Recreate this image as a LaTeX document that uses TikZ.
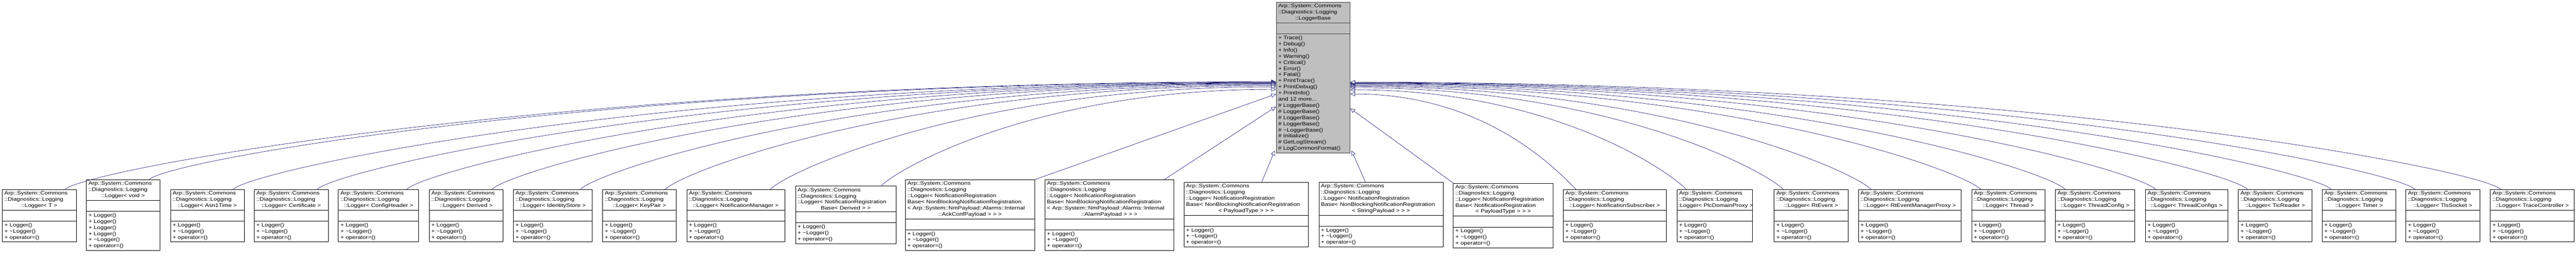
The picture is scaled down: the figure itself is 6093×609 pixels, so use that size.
\documentclass[tikz,border=0pt]{standalone}
\usepackage{fontspec}
\setmainfont{Liberation Sans}[FakeStretch=1.18]
\usetikzlibrary{shapes.multipart,arrows.meta,calc}
\definecolor{edgeblue}{HTML}{191970}
\definecolor{basegray}{HTML}{BFBFBF}
\newcommand\ctr[1]{\makebox[\linewidth]{#1}}
\newcommand\lmethods{+ Logger()\\+ \textasciitilde Logger()\\+ operator=()}
\tikzset{
  cls/.style={rectangle split,rectangle split parts=3,draw=black,fill=white,
    line width=0.9pt,inner xsep=5pt,inner ysep=4pt,align=left,anchor=north west,
    font=\fontsize{12}{14.5}\selectfont},
  inh/.style={draw=edgeblue,line width=0.8pt,-{Triangle[open,length=11pt,width=10pt,fill=white]}}
}
\begin{document}
\begin{tikzpicture}[x=1pt,y=-1pt]
\useasboundingbox (0,0) rectangle (6093,609);
% base class
\node[cls,fill=basegray,draw=black!75,text width=165pt] (base) at (3018,5)
  {Arp::System::Commons\\::Diagnostics::Logging\\\ctr{::LoggerBase}
   \nodepart{two}\rule{0pt}{17pt}
   \nodepart{three}+ Trace()\\+ Debug()\\+ Info()\\+ Warning()\\+ Critical()\\+ Error()\\+ Fatal()\\+ PrintTrace()\\+ PrintDebug()\\+ PrintInfo()\\and 12 more...\\\# LoggerBase()\\\# LoggerBase()\\\# LoggerBase()\\\# LoggerBase()\\\# \textasciitilde LoggerBase()\\\# Initialize()\\\# GetLogStream()\\\# LogCommonFormat()};
% plain loggers
\foreach \nm/\x/\w/\lbl in {lT/5/175/T, lAsn/403/174/Asn1Time, lCert/601/175/Certificate,
  lCfg/800/190/ConfigHeader, lDer/1015/174/Derived, lIds/1214/186/IdentityStore,
  lKey/1425/174/KeyPair, lNMgr/1624/232/NotificationManager,
  lSub/3697/244/NotificationSubscriber, lPlc/3966/179/PlcDomainProxy,
  lRte/4196/175/RtEvent, lRtm/4395/243/RtEventManagerProxy, lThr/4663/174/Thread,
  lTc/4861/188/ThreadConfig, lTcs/5074/195/ThreadConfigs, lTic/5294/174/TicReader,
  lTim/5492/175/Timer, lTls/5690/175/TlsSocket, lTrc/5890/198/TraceController}
  \node[cls,text width=\w pt-10pt] (\nm) at (\x,447)
    {Arp::System::Commons\\::Diagnostics::Logging\\\ctr{::Logger< \lbl\ >}
     \nodepart{two}\rule{0pt}{17pt}\nodepart{three}\lmethods};
\node[cls,text width=164pt] (lVoid) at (204,424)
  {Arp::System::Commons\\::Diagnostics::Logging\\\ctr{::Logger< void >}
   \nodepart{two}\rule{0pt}{17pt}
   \nodepart{three}+ Logger()\\+ Logger()\\+ Logger()\\+ Logger()\\+ \textasciitilde Logger()\\+ operator=()};
\node[cls,text width=228pt] (lNrbD) at (1881,439)
  {Arp::System::Commons\\::Diagnostics::Logging\\::Logger< NotificationRegistration\\\ctr{Base< Derived > >}
   \nodepart{two}\rule{0pt}{17pt}\nodepart{three}\lmethods};
\node[cls,text width=296pt] (lAck) at (2141,424)
  {Arp::System::Commons\\::Diagnostics::Logging\\::Logger< NotificationRegistration\\Base< NonBlockingNotificationRegistration\\< Arp::System::NmPayload::Alarms::Internal\\\ctr{::AckConfPayload > > >}
   \nodepart{two}\rule{0pt}{17pt}\nodepart{three}\lmethods};
\node[cls,text width=295pt] (lAlm) at (2471,424)
  {Arp::System::Commons\\::Diagnostics::Logging\\::Logger< NotificationRegistration\\Base< NonBlockingNotificationRegistration\\< Arp::System::NmPayload::Alarms::Internal\\\ctr{::AlarmPayload > > >}
   \nodepart{two}\rule{0pt}{17pt}\nodepart{three}\lmethods};
\node[cls,text width=284pt] (lPay) at (2800,430)
  {Arp::System::Commons\\::Diagnostics::Logging\\::Logger< NotificationRegistration\\Base< NonBlockingNotificationRegistration\\\ctr{< PayloadType > > >}
   \nodepart{two}\rule{0pt}{17pt}\nodepart{three}\lmethods};
\node[cls,text width=284pt] (lStr) at (3119,430)
  {Arp::System::Commons\\::Diagnostics::Logging\\::Logger< NotificationRegistration\\Base< NonBlockingNotificationRegistration\\\ctr{< StringPayload > > >}
   \nodepart{two}\rule{0pt}{17pt}\nodepart{three}\lmethods};
\node[cls,text width=226pt] (lNrbN) at (3437,432)
  {Arp::System::Commons\\::Diagnostics::Logging\\::Logger< NotificationRegistration\\Base< NotificationRegistration\\\ctr{< PayloadType > > >}
   \nodepart{two}\rule{0pt}{17pt}\nodepart{three}\lmethods};
% inheritance edges, left side
\foreach \c/\ty in {lT/193, lVoid/194, lAsn/195, lCert/196, lCfg/197, lDer/198,
  lIds/200, lKey/202, lNMgr/205, lNrbD/211}
  \draw[inh] let \p1=($(\c.north)!0.7!(\c.north east)$), \p2=($(base.north west)+(0,\ty-5)$) in
    (\p1) .. controls ($(\p1)+(45,-45)$) and ($(\p2)+({-0.6*(\x2-\x1)},0)$) .. (\p2);
\draw[inh] (lAck.north east) -- ($(base.north west)+(0,217)$);
\draw[inh] ($(lAlm.north)!0.85!(lAlm.north east)$) -- ($(base.north west)+(0,247)$);
\draw[inh] ($(lPay.north)!0.25!(lPay.north east)$) -- ($(base.south west)+(-3,-6)$);
% right side
\draw[inh] ($(lStr.north)!0.25!(lStr.north west)$) -- ($(base.south east)+(3,-6)$);
\draw[inh] (lNrbN.north west) -- ($(base.north east)+(0,251)$);
\foreach \c/\ty in {lSub/222, lPlc/212, lRte/207, lRtm/204, lThr/202, lTc/200,
  lTcs/198, lTic/197, lTim/196, lTls/195, lTrc/194}
  \draw[inh] let \p1=($(\c.north)!0.75!(\c.north west)$), \p2=($(base.north east)+(0,\ty-5)$) in
    (\p1) .. controls ($(\p1)+(-45,-45)$) and ($(\p2)+({0.6*(\x1-\x2)},0)$) .. (\p2);
\end{tikzpicture}
\end{document}
